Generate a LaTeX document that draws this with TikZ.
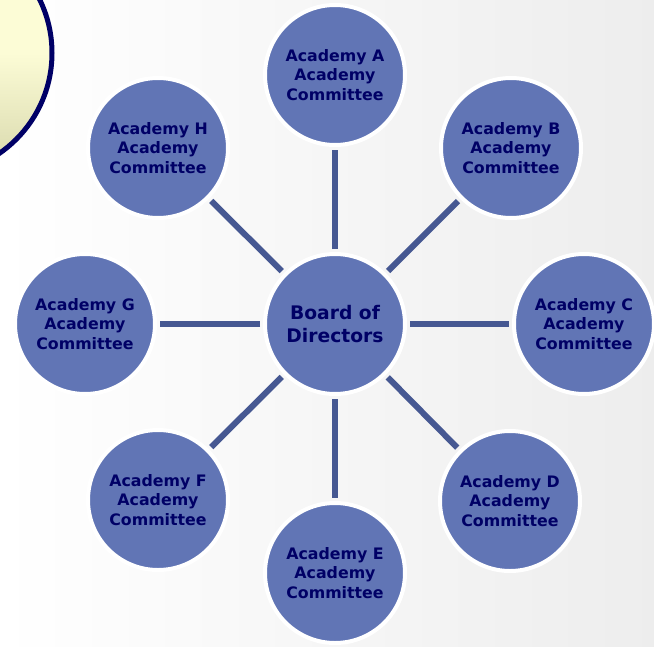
\documentclass[tikz,border=0pt]{standalone}
\usepackage{fontspec}
\setmainfont{DejaVu Sans}
\definecolor{circfill}{RGB}{97,117,181}
\definecolor{txtnavy}{RGB}{0,0,102}
\definecolor{connblue}{RGB}{70,88,146}
\definecolor{bordnavy}{RGB}{0,0,102}
\definecolor{yellowlt}{RGB}{252,252,214}
\definecolor{yellowdk}{RGB}{214,214,170}
\tikzset{
  acad/.style={circle, minimum size=140pt, inner sep=0pt, fill=circfill, draw=white, line width=4pt,
    text=txtnavy, align=center, font=\fontsize{15.8}{19.5}\selectfont\bfseries},
  board/.style={acad, font=\fontsize{18.7}{23}\selectfont\bfseries},
  conn/.style={draw=connblue, line width=6pt, shorten <=3pt, shorten >=3pt}
}
\begin{document}
\begin{tikzpicture}[x=1pt,y=-1pt]
\useasboundingbox (0,0) rectangle (654,646);
\shade[left color=white, right color=black!7] (0,0) rectangle (654,646);
\begin{scope}
  \clip (0,0) rectangle (654,646);
  \shade[top color=yellowlt, bottom color=yellowdk, middle color=yellowlt] (-70,53) circle (122);
  \draw[bordnavy, line width=5pt] (-70,53) circle (122);
\end{scope}
\node[board] (O) at (335,324) {Board of\\Directors};
\node[acad] (A) at (335,75) {Academy A\\Academy\\Committee};
\node[acad] (B) at (511,148) {Academy B\\Academy\\Committee};
\node[acad] (C) at (584,324) {Academy C\\Academy\\Committee};
\node[acad] (D) at (510,501) {Academy D\\Academy\\Committee};
\node[acad] (E) at (335,573) {Academy E\\Academy\\Committee};
\node[acad] (F) at (158,500) {Academy F\\Academy\\Committee};
\node[acad] (G) at (85,324) {Academy G\\Academy\\Committee};
\node[acad] (H) at (158,148) {Academy H\\Academy\\Committee};
\foreach \n in {A,B,C,D,E,F,G,H} { \draw[conn] (O) -- (\n); }
\end{tikzpicture}
\end{document}
